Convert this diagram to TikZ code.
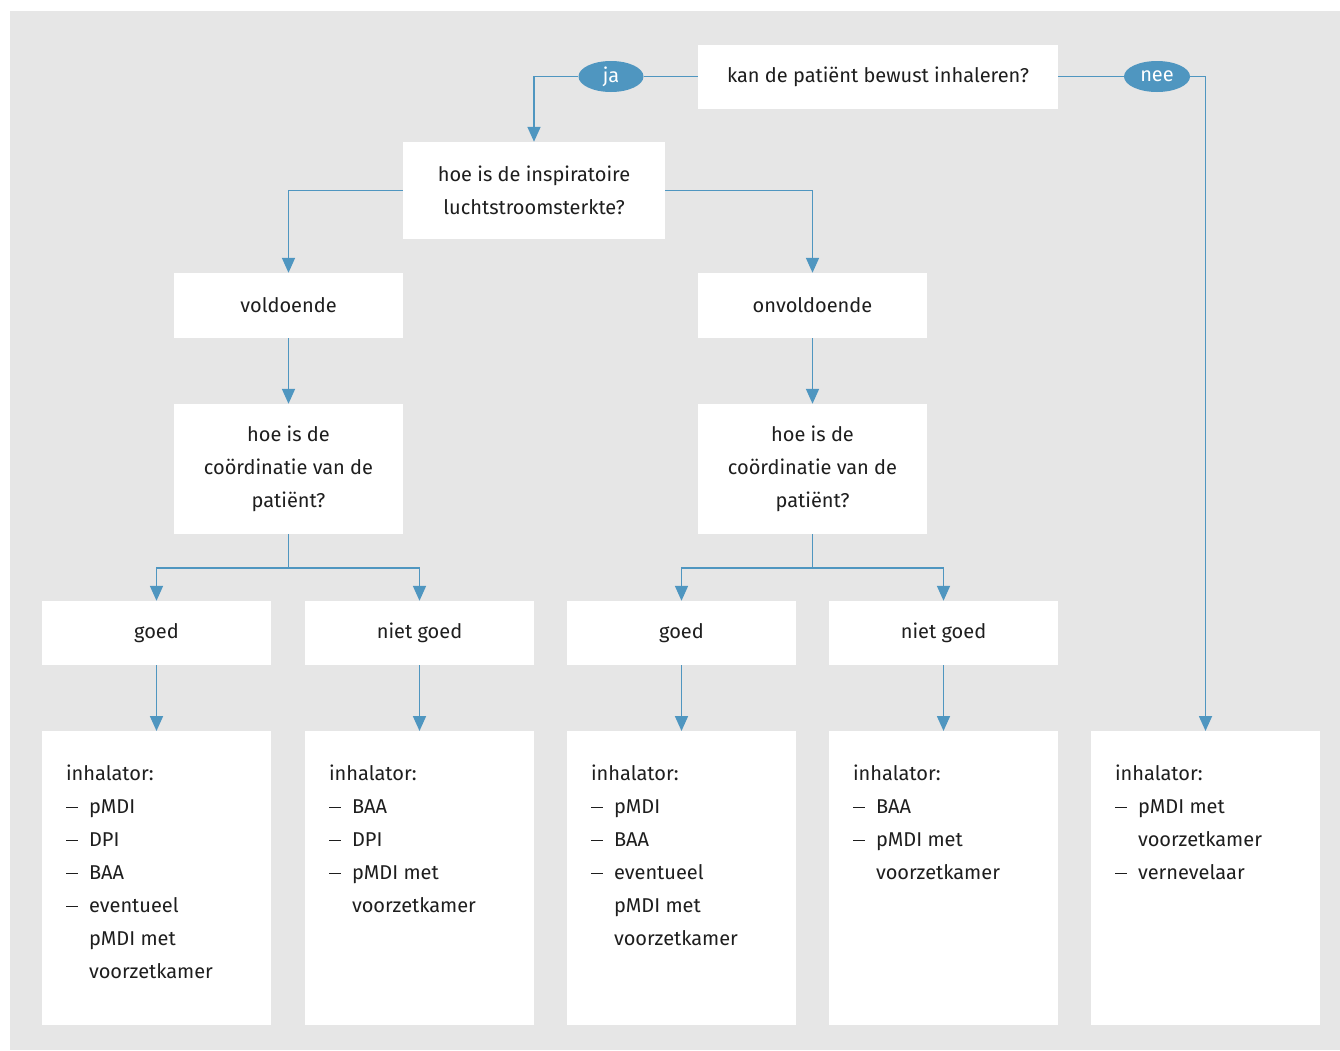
\documentclass[tikz,border=0pt]{standalone}
\usepackage{fontspec}
\setmainfont{Fira Sans}
\usetikzlibrary{shapes.geometric,arrows.meta}
\definecolor{bl}{RGB}{79,150,192}
\definecolor{bg}{RGB}{230,230,230}
\definecolor{tx}{RGB}{30,30,30}
\newcommand{\fs}{\fontsize{20}{33}\selectfont}
\newcommand{\dsh}{\makebox[23pt][l]{\rule[5.5pt]{12pt}{1.3pt}}}
\newcommand{\itm}[1]{\dsh#1\\}
\newcommand{\cnt}[1]{\hspace*{23pt}#1\\}
\begin{document}
\begin{tikzpicture}[x=1pt,y=-1pt,
  box/.style={fill=white, inner sep=0pt, minimum width=229pt, minimum height=65pt, align=center, font=\fs, text=tx},
  inh/.style={fill=white, inner sep=0pt, anchor=north, font=\fs, text=tx},
  arr/.style={draw=bl, line width=1.7pt, -{Triangle[length=15pt,width=13pt]}},
  ln/.style={draw=bl, line width=1.7pt},
  oval/.style={ellipse, fill=bl, text=white, minimum width=65pt, minimum height=31pt, inner sep=0pt, font=\fs}]
\useasboundingbox (0,0) rectangle (1340,1050);
\fill[bg] (10,11) rectangle (1340,1050);

\node[box, minimum width=360pt, minimum height=64pt] (top) at (878,76.5) {\raisebox{-2pt}{kan de patiënt bewust inhaleren?}};
\node[oval] (ja) at (611,76.5) {ja};
\node[oval, minimum width=66pt] (nee) at (1157,76.5) {nee};
\node[box, minimum width=262pt, minimum height=97pt] (q2) at (534,190.5) {hoe is de inspiratoire\\luchtstroomsterkte?};
\node[box] (vold) at (288.5,305.5) {voldoende};
\node[box] (onv) at (812.5,305.5) {onvoldoende};
\node[box, minimum height=130pt] (c1) at (288.5,469) {hoe is de\\coördinatie van de\\patiënt?};
\node[box, minimum height=130pt] (c2) at (812.5,469) {hoe is de\\coördinatie van de\\patiënt?};
\node[box, minimum height=64pt] (g1) at (156.5,633) {\raisebox{-2pt}{goed}};
\node[box, minimum height=64pt] (n1) at (419.5,633) {\raisebox{-2pt}{niet goed}};
\node[box, minimum height=64pt] (g2) at (681.5,633) {\raisebox{-2pt}{goed}};
\node[box, minimum height=64pt] (n2) at (943.5,633) {\raisebox{-2pt}{niet goed}};

\node[inh] (i1) at (156.5,731) {\parbox[t][294pt][t]{229pt}{\leftskip=24pt\vspace{34pt}inhalator:\\\itm{pMDI}\itm{DPI}\itm{BAA}\itm{eventueel}\cnt{pMDI met}\cnt{voorzetkamer}}};
\node[inh] (i2) at (419.5,731) {\parbox[t][294pt][t]{229pt}{\leftskip=24pt\vspace{34pt}inhalator:\\\itm{BAA}\itm{DPI}\itm{pMDI met}\cnt{voorzetkamer}}};
\node[inh] (i3) at (681.5,731) {\parbox[t][294pt][t]{229pt}{\leftskip=24pt\vspace{34pt}inhalator:\\\itm{pMDI}\itm{BAA}\itm{eventueel}\cnt{pMDI met}\cnt{voorzetkamer}}};
\node[inh] (i4) at (943.5,731) {\parbox[t][294pt][t]{229pt}{\leftskip=24pt\vspace{34pt}inhalator:\\\itm{BAA}\itm{pMDI met}\cnt{voorzetkamer}}};
\node[inh] (i5) at (1205.5,731) {\parbox[t][294pt][t]{229pt}{\leftskip=24pt\vspace{34pt}inhalator:\\\itm{pMDI met}\cnt{voorzetkamer}\itm{vernevelaar}}};

\coordinate (j1) at (288.5,568);
\coordinate (j2) at (812.5,568);

\draw[ln] (top.west) -- (ja.east);
\draw[arr] (ja.west) -| (q2.north);
\draw[ln] (top.east) -- (nee.west);
\draw[arr] (nee.east) -| (i5.north);
\draw[arr] (q2.west) -| (vold.north);
\draw[arr] (q2.east) -| (onv.north);
\draw[arr] (vold) -- (c1);
\draw[arr] (onv) -- (c2);
\draw[ln] (c1.south) -- (j1);
\draw[arr] (j1) -| (g1.north);
\draw[arr] (j1) -| (n1.north);
\draw[ln] (c2.south) -- (j2);
\draw[arr] (j2) -| (g2.north);
\draw[arr] (j2) -| (n2.north);
\draw[arr] (g1) -- (i1);
\draw[arr] (n1) -- (i2);
\draw[arr] (g2) -- (i3);
\draw[arr] (n2) -- (i4);
\end{tikzpicture}
\end{document}
